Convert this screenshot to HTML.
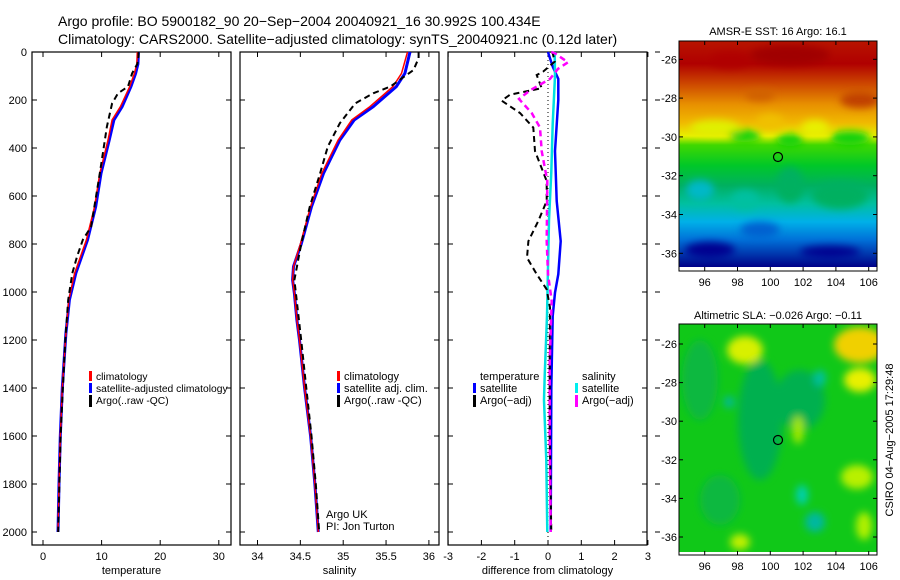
<!DOCTYPE html>
<html><head><meta charset="utf-8"><style>
html,body{margin:0;padding:0;background:#fff;}
svg{display:block;font-family:"Liberation Sans",sans-serif;}
</style></head><body>
<svg id="chart" width="900" height="580" viewBox="0 0 900 580" xmlns="http://www.w3.org/2000/svg">
<defs>
<linearGradient id="sstGrad" x1="0" y1="0" x2="0" y2="1">
<stop offset="0" stop-color="#b81400"/>
<stop offset="0.1" stop-color="#b00000"/>
<stop offset="0.2" stop-color="#d05000"/>
<stop offset="0.28" stop-color="#e89000"/>
<stop offset="0.36" stop-color="#f0b800"/>
<stop offset="0.42" stop-color="#e8f000"/>
<stop offset="0.46" stop-color="#40d800"/>
<stop offset="0.55" stop-color="#00c828"/>
<stop offset="0.64" stop-color="#00b060"/>
<stop offset="0.72" stop-color="#00c0a0"/>
<stop offset="0.8" stop-color="#00b0e8"/>
<stop offset="0.88" stop-color="#0070d8"/>
<stop offset="0.95" stop-color="#0030a8"/>
<stop offset="1" stop-color="#000088"/>
</linearGradient>
<filter id="blur4"><feGaussianBlur stdDeviation="4"/></filter>
<clipPath id="m1clip"><rect x="679" y="41" width="198" height="226"/></clipPath>
<clipPath id="m2clip"><rect x="679" y="324" width="198" height="228"/></clipPath>
</defs>
<g id="titles">
<text x="58" y="26" font-size="14">Argo profile: BO 5900182_90 20−Sep−2004 20040921_16 30.992S 100.434E</text>
<text x="58" y="44" font-size="14">Climatology: CARS2000. Satellite−adjusted climatology: synTS_20040921.nc (0.12d later)</text>
</g>
<g id="panels"></g>
<g id="maps">
<g>
<text x="778" y="35" font-size="11" text-anchor="middle">AMSR-E SST: 16 Argo: 16.1</text>
<g clip-path="url(#m1clip)">
<rect x="679" y="41" width="198" height="226" fill="url(#sstGrad)"/>
<g filter="url(#blur4)">
<ellipse cx="715" cy="128" rx="25" ry="8" fill="#e0f000"/>
<ellipse cx="770" cy="122" rx="14" ry="8" fill="#f0c000"/>
<ellipse cx="815" cy="128" rx="14" ry="8" fill="#e8f000"/>
<ellipse cx="745" cy="136" rx="16" ry="6" fill="#10d010"/>
<ellipse cx="790" cy="140" rx="14" ry="6" fill="#10d010"/>
<ellipse cx="850" cy="138" rx="20" ry="7" fill="#10d010"/>
<ellipse cx="700" cy="190" rx="14" ry="10" fill="#00b8c8"/>
<ellipse cx="840" cy="195" rx="28" ry="14" fill="#00b060"/>
<ellipse cx="790" cy="185" rx="14" ry="18" fill="#00b060"/>
<ellipse cx="745" cy="200" rx="14" ry="10" fill="#00c0a0"/>
<ellipse cx="710" cy="250" rx="25" ry="8" fill="#000090"/>
<ellipse cx="830" cy="252" rx="30" ry="6" fill="#000090"/>
<ellipse cx="760" cy="230" rx="20" ry="8" fill="#0060d0"/>
<ellipse cx="790" cy="55" rx="40" ry="10" fill="#a00000"/>
<ellipse cx="730" cy="60" rx="20" ry="8" fill="#b00000"/>
<ellipse cx="860" cy="100" rx="20" ry="8" fill="#c04000"/>
<ellipse cx="760" cy="95" rx="15" ry="6" fill="#d06000"/>
</g>
</g>
<rect x="679" y="267" width="198" height="4" fill="#fff"/>
<rect x="679" y="41" width="198" height="230" fill="none" stroke="#000" stroke-width="1"/>
<circle cx="778" cy="157" r="4.5" fill="none" stroke="#000" stroke-width="1.2"/>
<g id="m1ticks"></g>
</g>
<g>
<text x="778" y="319" font-size="11" text-anchor="middle">Altimetric SLA: −0.026 Argo: −0.11</text>
<g clip-path="url(#m2clip)">
<rect x="679" y="324" width="198" height="228" fill="#10c818"/>
<g filter="url(#blur4)">
<ellipse cx="760" cy="420" rx="22" ry="60" fill="#00b050"/>
<ellipse cx="800" cy="400" rx="25" ry="30" fill="#00b050"/>
<ellipse cx="700" cy="380" rx="18" ry="40" fill="#08b840"/>
<ellipse cx="720" cy="500" rx="20" ry="25" fill="#08b840"/>
<ellipse cx="745" cy="350" rx="18" ry="14" fill="#d8f000"/>
<ellipse cx="860" cy="345" rx="26" ry="18" fill="#f0d000"/>
<ellipse cx="860" cy="380" rx="16" ry="12" fill="#e8f000"/>
<ellipse cx="857" cy="477" rx="16" ry="12" fill="#b8f000"/>
<ellipse cx="740" cy="542" rx="10" ry="8" fill="#c0f000"/>
<ellipse cx="802" cy="495" rx="6" ry="10" fill="#00d0b0"/>
<ellipse cx="820" cy="378" rx="6" ry="8" fill="#00c0a0"/>
<ellipse cx="729" cy="402" rx="5" ry="6" fill="#00b8a0"/>
<ellipse cx="815" cy="522" rx="10" ry="10" fill="#00b8a0"/>
<ellipse cx="798" cy="430" rx="6" ry="14" fill="#a0e800"/>
<ellipse cx="864" cy="526" rx="8" ry="14" fill="#b0f000"/>
</g>
</g>
<rect x="679" y="552" width="198" height="3" fill="#fff"/>
<rect x="679" y="324" width="198" height="231" fill="none" stroke="#000" stroke-width="1"/>
<circle cx="778" cy="440" r="4.5" fill="none" stroke="#000" stroke-width="1.2"/>
<g id="m2ticks"></g>
</g>
<text transform="translate(893,440) rotate(-90)" font-size="11" text-anchor="middle">CSIRO 04−Aug−2005 17:29:48</text>
</g>
</svg>
<script>
// ---- data ----
const depthTicks = [0,200,400,600,800,1000,1200,1400,1600,1800,2000];
const tempTicks = [0,10,20,30];
const salTicks = [34,34.5,35,35.5,36];
const diffTicks = [-3,-2,-1,0,1,2,3];

const climTDepth = [0,50,89,144,228,283,367,506,644,783,922,1033,1172,1400,1600,1800,2000];
const climT = [16.1,16.0,15.6,14.8,13.2,11.8,11.1,9.7,8.8,7.4,5.4,4.4,3.9,3.3,2.95,2.73,2.56];
const satT = [16.3,16.2,15.8,15.0,13.5,12.1,11.3,9.9,9.0,7.6,5.6,4.5,3.9,3.3,2.95,2.73,2.56];
const argoTDepth = [0,19,50,89,144,172,214,311,506,728,783,853,922,1033,1200,1400,1600,1800,2000];
const argoT = [16.3,16.3,16.1,15.2,14.5,12.8,11.8,10.9,9.7,8.2,6.8,5.8,5.0,4.3,3.8,3.4,3.0,2.8,2.6];

const salDepth = [0,89,144,228,283,367,506,644,800,894,950,1006,1117,1200,1400,1600,1800,2000];
const climS = [35.75,35.68,35.58,35.31,35.10,34.94,34.75,34.62,34.50,34.42,34.41,34.43,34.46,34.49,34.55,34.62,34.67,34.71];
const satS = [35.78,35.72,35.62,35.35,35.13,34.96,34.77,34.63,34.51,34.42,34.41,34.43,34.46,34.49,34.55,34.62,34.67,34.71];
const argoSDepth = [0,26,75,144,172,214,297,394,506,644,800,950,1200,1400,1600,1800,2000];
const argoS = [35.88,35.88,35.82,35.55,35.35,35.14,34.96,34.82,34.73,34.61,34.51,34.43,34.51,34.57,34.63,34.68,34.72];

const argoTdDepth = [0,5,40,82,96,151,178,203,254,315,413,538,621,704,788,857,926,989,1065,1300,1600,2000];
const argoTd = [0.1,0.14,0.2,-0.15,-0.34,-0.19,-1.14,-1.39,-0.84,-0.44,-0.39,-0.04,-0.04,-0.29,-0.59,-0.63,-0.34,-0.04,0.06,0.05,0.05,0.1];
const argoSdDepth = [0,5,43,70,112,160,196,254,315,413,538,788,926,1037,1300,1600,2000];
const argoSd = [0.1,0.2,0.6,0.3,0.06,-0.54,-0.87,-0.49,-0.24,-0.19,-0.02,-0.04,0,0.11,0.05,0.05,0.08];
const satTdDepth = [0,61,112,200,413,621,788,926,1003,1100,1400,2000];
const satTd = [0.0,0.14,0.31,0.31,0.21,0.26,0.38,0.31,0.21,0.14,0.1,0.08];
const satSdDepth = [0,100,300,500,700,900,1100,1350,1450,1700,2000];
const satSd = [0.2,0.21,0.14,0.1,0.03,0,-0.03,-0.1,-0.12,-0.05,-0.02];

const latTicks = [-26,-28,-30,-32,-34,-36];
const lonTicks = [96,98,100,102,104,106];

// ---- scales ----
const NS = 'http://www.w3.org/2000/svg';
const yD = d => 52 + d*0.24;
const xT = v => 43 + v*5.86;
const xS = v => 257.5 + (v-34)*85.7;
const xDf = v => 548 + v*33.3;

function mk(tag, attrs, parent){
  const e = document.createElementNS(NS, tag);
  for (const k in attrs) e.setAttribute(k, attrs[k]);
  parent.appendChild(e);
  return e;
}
const panels = document.getElementById('panels');

function panel(name, x0, x1, xs, ticks, fmt, label, showY){
  const g = mk('g', {}, panels);
  
  
  const fr = mk('rect', {x:x0, y:52, width:x1-x0, height:493, fill:'none', stroke:'#000', 'stroke-width':1.2}, g);
  
  
  depthTicks.forEach(d => {
    mk('line', {x1:x0, x2:x0+5, y1:yD(d), y2:yD(d), stroke:'#000'}, g);
    mk('line', {x1:x1-5, x2:x1, y1:yD(d), y2:yD(d), stroke:'#000'}, g);
    if (showY) {
      const t = mk('text', {x:27, y:yD(d)+4, 'font-size':11, 'text-anchor':'end'}, g);
      t.textContent = d;
      
      
    }
  });
  ticks.forEach(v => {
    const x = xs(v);
    mk('line', {x1:x, x2:x, y1:52, y2:57, stroke:'#000'}, g);
    mk('line', {x1:x, x2:x, y1:540, y2:545, stroke:'#000'}, g);
    const t = mk('text', {x:x, y:560, 'font-size':11, 'text-anchor':'middle'}, g);
    t.textContent = fmt(v);
    
    
  });
  const lt = mk('text', {x:(x0+x1)/2, y:574, 'font-size':11, 'text-anchor':'middle'}, g);
  lt.textContent = label;
  
  
  return g;
}
function series(g, name, depths, vals, xs, color, w, dash){
  const pts = vals.map((v,i) => xs(v).toFixed(1) + ',' + yD(depths[i]).toFixed(1)).join(' ');
  const p = mk('polyline', {points:pts, fill:'none', stroke:color, 'stroke-width':w}, g);
  if (dash) p.setAttribute('stroke-dasharray', dash);
  
  
}
function legend(g, x, y, items, fs){
  items.forEach((it, i) => {
    const yy = y + i*12;
    const b = mk('rect', {x:x, y:yy-9, width:3, height:i==items.length-1 && it.dashTall ? 12 : 10, fill:it.c}, g);
    
    
    const t = mk('text', {x:x+7, y:yy, 'font-size':fs || 11}, g);
    t.textContent = it.t;
    
    
  });
}

// temperature
const gT = panel('temperature-panel', 32, 231, xT, tempTicks, v => v, 'temperature', true);
series(gT, 'temp-satellite-adjusted', climTDepth, satT, xT, '#0000ff', 3);
series(gT, 'temp-climatology', climTDepth, climT, xT, '#ff0000', 1.5);
series(gT, 'temp-argo', argoTDepth, argoT, xT, '#000', 2, '6,4');
legend(gT, 89, 380, [{c:'#f00',t:'climatology'},{c:'#00f',t:'satellite-adjusted climatology'},{c:'#000',t:'Argo(..raw -QC)',dashTall:true}], 10.3);

// salinity
const gS = panel('salinity-panel', 240, 439, xS, salTicks, v => v, 'salinity', false);
series(gS, 'sal-satellite-adjusted', salDepth, satS, xS, '#0000ff', 3);
series(gS, 'sal-climatology', salDepth, climS, xS, '#ff0000', 1.5);
series(gS, 'sal-argo', argoSDepth, argoS, xS, '#000', 2, '6,4');
legend(gS, 337, 380, [{c:'#f00',t:'climatology'},{c:'#00f',t:'satellite adj. clim.'},{c:'#000',t:'Argo(..raw -QC)',dashTall:true}]);
const a1 = mk('text', {x:326, y:518, 'font-size':11}, gS); a1.textContent = 'Argo UK';


const a2 = mk('text', {x:326, y:530, 'font-size':11}, gS); a2.textContent = 'PI: Jon Turton';



// difference
const gD = panel('difference-panel', 448, 647, xDf, diffTicks, v => v, 'difference from climatology', false);
mk('line', {x1:xDf(0), x2:xDf(0), y1:52, y2:545, stroke:'#000', 'stroke-dasharray':'1,3'}, gD);
series(gD, 'temp-satellite-diff', satTdDepth, satTd, xDf, '#0000ff', 2.5);
series(gD, 'sal-satellite-diff', satSdDepth, satSd, xDf, '#00e0e0', 2.5);
series(gD, 'temp-argo-diff', argoTdDepth, argoTd, xDf, '#000', 2, '6,4');
series(gD, 'sal-argo-diff', argoSdDepth, argoSd, xDf, '#ff00ff', 2.5, '6,4');
legend(gD, 473, 380, [{c:'#fff',t:'temperature'},{c:'#00f',t:'satellite'},{c:'#000',t:'Argo(−adj)',dashTall:true}]);
legend(gD, 575, 380, [{c:'#fff',t:'salinity'},{c:'#0ee',t:'satellite'},{c:'#f0f',t:'Argo(−adj)',dashTall:true}]);
depthTicks.forEach(d => mk('line', {x1:655, x2:660, y1:yD(d), y2:yD(d), stroke:'#000'}, gD));

// map ticks
function mapTicks(id, lat26, lat36, bottom, top, labY){
  const g = document.getElementById(id);
  const yl = l => lat26 + (-26-l)*(lat36-lat26)/10;
  const xl = l => 704.7 + (l-96)*16.4;
  latTicks.forEach(l => {
    mk('line', {x1:679, x2:683, y1:yl(l), y2:yl(l), stroke:'#000'}, g);
    mk('line', {x1:873, x2:877, y1:yl(l), y2:yl(l), stroke:'#000'}, g);
    const t = mk('text', {x:677, y:yl(l)+4, 'font-size':11, 'text-anchor':'end'}, g);
    t.textContent = l;
    
    
  });
  lonTicks.forEach(l => {
    mk('line', {x1:xl(l), x2:xl(l), y1:bottom-4, y2:bottom, stroke:'#000'}, g);
    mk('line', {x1:xl(l), x2:xl(l), y1:top, y2:top+4, stroke:'#000'}, g);
    const t = mk('text', {x:xl(l), y:labY, 'font-size':11, 'text-anchor':'middle'}, g);
    t.textContent = l;
    
    
  });
}
mapTicks('m1ticks', 59.3, 253.3, 271, 41, 286);
mapTicks('m2ticks', 344, 537, 555, 324, 570);
</script>
</body></html>
